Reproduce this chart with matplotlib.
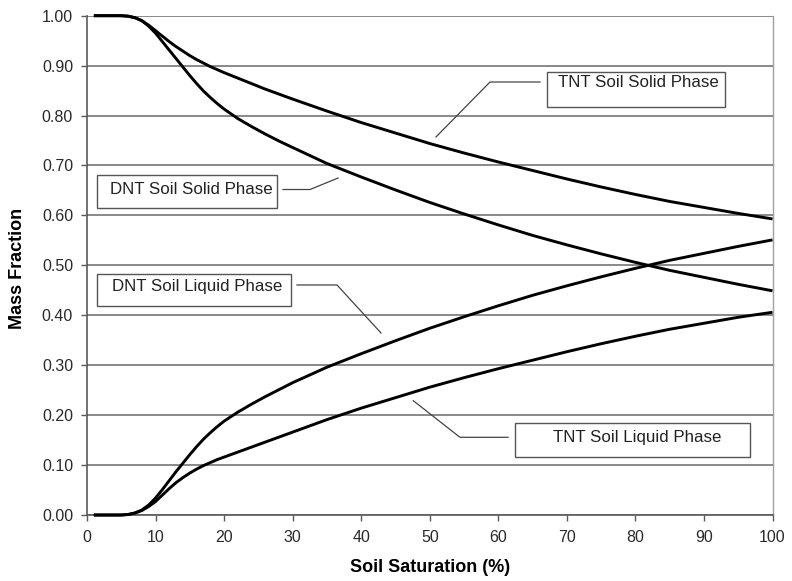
import matplotlib
matplotlib.use("Agg")
import matplotlib.pyplot as plt
from matplotlib.patches import Rectangle

plt.rcParams['font.family'] = ['Liberation Sans', 'DejaVu Sans']

# ---- data ----
saturation = [1, 2, 3, 4, 5, 6, 7, 8, 9, 10, 11, 12, 13, 14, 15, 16, 17, 18, 19, 20,
              22, 24, 26, 28, 30, 35, 40, 45, 50, 55, 60, 65, 70, 75, 80, 85, 90, 95, 100]

tnt_solid = [1.0, 1.0, 1.0, 1.0, 1.0, 0.999, 0.996, 0.990, 0.981, 0.970,
             0.959, 0.948, 0.938, 0.929, 0.920, 0.912, 0.905, 0.898, 0.892, 0.886,
             0.875, 0.864, 0.853, 0.843, 0.833, 0.809, 0.786, 0.765, 0.744, 0.725,
             0.707, 0.690, 0.673, 0.657, 0.642, 0.628, 0.616, 0.604, 0.593]

dnt_solid = [1.0, 1.0, 1.0, 1.0, 1.0, 0.999, 0.996, 0.990, 0.979, 0.965,
             0.948, 0.931, 0.914, 0.897, 0.880, 0.864, 0.849, 0.836, 0.824, 0.813,
             0.794, 0.778, 0.763, 0.749, 0.736, 0.704, 0.677, 0.651, 0.626, 0.603,
             0.581, 0.560, 0.541, 0.523, 0.506, 0.490, 0.476, 0.462, 0.449]

dnt_liquid = [0.0, 0.0, 0.0, 0.0, 0.0, 0.001, 0.004, 0.010, 0.020, 0.034,
              0.051, 0.069, 0.087, 0.104, 0.121, 0.137, 0.152, 0.165, 0.177, 0.188,
              0.206, 0.222, 0.237, 0.251, 0.265, 0.296, 0.323, 0.349, 0.374, 0.397,
              0.419, 0.440, 0.459, 0.477, 0.494, 0.510, 0.524, 0.538, 0.551]

tnt_liquid = [0.0, 0.0, 0.0, 0.0, 0.0, 0.001, 0.004, 0.009, 0.017, 0.027,
              0.040, 0.053, 0.065, 0.075, 0.084, 0.092, 0.099, 0.105, 0.111, 0.116,
              0.126, 0.136, 0.146, 0.156, 0.166, 0.191, 0.214, 0.235, 0.256, 0.275,
              0.293, 0.310, 0.327, 0.343, 0.358, 0.372, 0.384, 0.396, 0.406]

x_ticks = [0, 10, 20, 30, 40, 50, 60, 70, 80, 90, 100]
y_ticks = [0.0, 0.1, 0.2, 0.3, 0.4, 0.5, 0.6, 0.7, 0.8, 0.9, 1.0]

# label boxes: text, text position, box (x0, y0, x1, y1), leader path
labels = [
    ("TNT Soil Solid Phase", (80.5, 0.866), (67.06, 0.8177, 93.07, 0.8879),
     [(66.08, 0.8672), (58.79, 0.8672), (50.91, 0.7571)]),
    ("DNT Soil Solid Phase", (15.2, 0.651), (1.46, 0.6149, 27.72, 0.6810),
     [(28.59, 0.6519), (32.53, 0.6519), (36.62, 0.6749)]),
    ("DNT Soil Liquid Phase", (16.1, 0.458), (1.46, 0.4186, 29.76, 0.4827),
     [(30.63, 0.4607), (36.47, 0.4607), (42.89, 0.3645)]),
    ("TNT Soil Liquid Phase", (80.3, 0.155), (62.44, 0.1162, 96.72, 0.1843),
     [(61.42, 0.1556), (54.41, 0.1556), (47.60, 0.2289)]),
]

# ---- figure ----
W, H = 792, 581
fig = plt.figure(figsize=(W / 100, H / 100), dpi=100)
ax = fig.add_axes([87 / W, 1 - 515 / H, (772.5 - 87) / W, (515 - 15.7) / H])

ax.set_xlim(0, 100)
ax.set_ylim(0, 1)

ax.set_yticks(y_ticks)
ax.set_yticklabels([f"{v:.2f}" for v in y_ticks])
ax.set_xticks(x_ticks)
ax.set_xticklabels([str(v) for v in x_ticks])

ax.yaxis.grid(True, color='#808080', linewidth=1.3)
ax.xaxis.grid(False)
ax.set_axisbelow(True)

for s in ('left', 'bottom'):
    ax.spines[s].set_color('#5a5a5a')
    ax.spines[s].set_linewidth(1.2)
ax.spines['right'].set_color('#a0a0a0')
ax.spines['right'].set_linewidth(1.0)
ax.spines['top'].set_visible(False)

ax.tick_params(axis='both', direction='out', length=4, width=1.0, color='#5a5a5a',
               labelsize=11.5, labelcolor='#2a2a2a')
ax.tick_params(axis='y', pad=6)
ax.tick_params(axis='x', pad=7)

for series in (tnt_solid, dnt_solid, dnt_liquid, tnt_liquid):
    ax.plot(saturation, series, color='black', linewidth=2.1, clip_on=False,
            solid_capstyle='butt', solid_joinstyle='round', zorder=3)

for text, (tx, ty), (bx0, by0, bx1, by1), path in labels:
    ax.add_patch(Rectangle((bx0, by0), bx1 - bx0, by1 - by0, facecolor='white',
                           edgecolor='#555555', linewidth=1.0, zorder=4))
    ax.text(tx, ty, text, ha='center', va='center', fontsize=12.2, color='#222222',
            zorder=5)
    ax.plot([p[0] for p in path], [p[1] for p in path], color='#444444',
            linewidth=0.9, zorder=4)

ax.set_xlabel("Soil Saturation (%)", fontsize=13, fontweight='bold', va='center')
ax.xaxis.set_label_coords(0.5, (515 - 567) / 499.3)
ax.set_ylabel("Mass Fraction", fontsize=13, fontweight='bold', va='center')
ax.yaxis.set_label_coords((18 - 87) / 685.5, (515 - 268) / 499.3)

fig.savefig("out.png", dpi=100, facecolor='white')
